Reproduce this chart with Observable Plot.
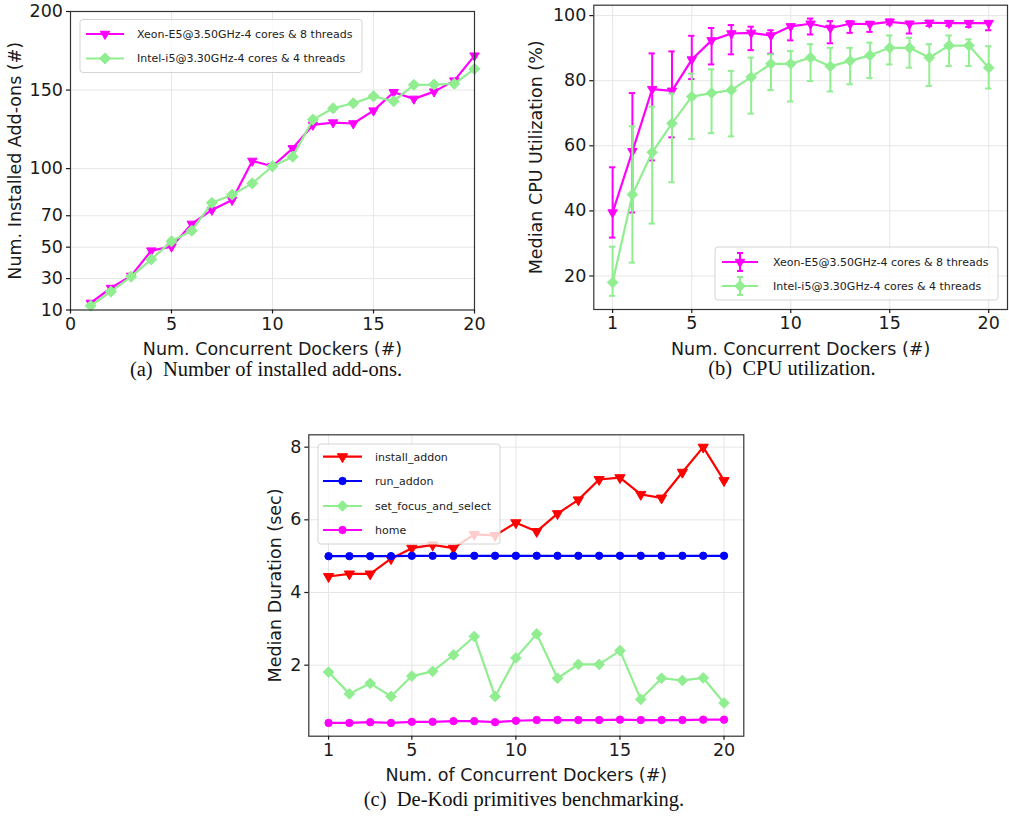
<!DOCTYPE html>
<html><head><meta charset="utf-8">
<script src="https://cdn.jsdelivr.net/npm/d3@7"></script>
<script src="https://cdn.jsdelivr.net/npm/@observablehq/plot@0.6"></script>
<style>
body{margin:0;background:#fff;}
#root{position:relative;width:1009px;height:825px;overflow:hidden;background:#fff;}
.panel{position:absolute;}
#overlay{position:absolute;left:0;top:0;pointer-events:none;}
</style>
</head><body>
<div id="root"></div>
<script>
// ---------- data ----------
const dockers = [1,2,3,4,5,6,7,8,9,10,11,12,13,14,15,16,17,18,19,20];
const cpuNames = ["Xeon-E5@3.50GHz-4 cores & 8 threads", "Intel-i5@3.30GHz-4 cores & 4 threads"];
const primNames = ["install_addon", "run_addon", "set_focus_and_select", "home"];

// (a) installed add-ons
const addonsXeon  = [14.5, 24, 31.7, 47.8, 50.3, 64.8, 73.7, 80, 104.9, 101.5, 112.9, 127.8, 129.3, 128.7, 136.9, 148.6, 144.4, 149, 156, 171.9];
const addonsIntel = [12.7, 21.7, 31.2, 42.2, 53.7, 60.5, 78.2, 83.4, 90.6, 101.5, 107.6, 131.2, 138.4, 141.6, 146, 142.9, 153.3, 153.5, 154, 163.5];

// (b) CPU utilization (median, low, high)
const cpuXeon      = [39.5, 58.3, 77.4, 76.9, 86.5, 92.4, 94.5, 94.7, 93.9, 96.7, 97.5, 96.2, 97.5, 97.4, 98.1, 97.5, 97.8, 97.7, 97.7, 97.7];
const cpuXeonLow   = [31.8, 39.5, 55.5, 62.6, 80.5, 85, 88.1, 89.4, 88.3, 92.4, 94.2, 91.5, 94.7, 95, 97.3, 94.5, 96.8, 96.8, 96.5, 95.5];
const cpuXeonHigh  = [53.4, 76.2, 88.4, 89, 93.8, 96.2, 97.1, 96.6, 95.5, 97.1, 99.1, 98.3, 98.3, 98.1, 98.8, 98.1, 98.3, 98.3, 98.3, 98.3];
const cpuIntel     = [18, 45, 58, 66.9, 75.1, 76.2, 77.1, 81.1, 85.2, 85.2, 87.1, 84.4, 86.1, 87.8, 90.1, 90.1, 87.1, 90.8, 90.8, 84];
const cpuIntelLow  = [13.9, 24.1, 36.1, 48.8, 62.1, 63.9, 62.9, 69.9, 77.1, 73.6, 79.9, 76.7, 78.9, 80.8, 85, 84, 78.4, 84.5, 84.5, 77.6];
const cpuIntelHigh = [29, 66, 72, 76.1, 82.2, 83.5, 83, 87.1, 88.1, 89.1, 91.2, 90.1, 90.1, 91.7, 93.9, 93.2, 91.2, 93.9, 92.7, 90.6];

// (c) primitive durations (sec)
const durInstall = [4.44, 4.51, 4.51, 4.93, 5.22, 5.31, 5.22, 5.6, 5.57, 5.92, 5.68, 6.17, 6.55, 7.11, 7.16, 6.7, 6.6, 7.31, 8.0, 7.08];
const durRun     = [5.0, 5.0, 5.0, 5.0, 5.01, 5.01, 5.01, 5.01, 5.01, 5.01, 5.01, 5.01, 5.01, 5.01, 5.01, 5.01, 5.01, 5.01, 5.01, 5.01];
const durFocus   = [1.81, 1.21, 1.5, 1.14, 1.7, 1.83, 2.28, 2.79, 1.14, 2.2, 2.86, 1.64, 2.02, 2.02, 2.4, 1.06, 1.64, 1.58, 1.65, 0.96];
const durHome    = [0.41, 0.41, 0.43, 0.41, 0.44, 0.44, 0.46, 0.46, 0.43, 0.47, 0.49, 0.49, 0.49, 0.49, 0.5, 0.49, 0.49, 0.49, 0.5, 0.5];

// ticks
const ticksAx = [0, 5, 10, 15, 20];
const ticksAy = [10, 30, 50, 70, 100, 150, 200];
const ticksBx = [1, 5, 10, 15, 20];
const ticksBy = [20, 40, 60, 80, 100];
const ticksCx = [1, 5, 10, 15, 20];
const ticksCy = [2, 4, 6, 8];

const captions = ["(a)  Number of installed add-ons.", "(b)  CPU utilization.", "(c)  De-Kodi primitives benchmarking."];

// ---------- helpers ----------
const MAG = "#ff00ff", LGREEN = "#90ee90", RED = "#ff0000", BLUE = "#0000ff";
const rows = (ys, lo, hi) => dockers.map((x, i) => ({x, y: ys[i], lo: lo ? lo[i] : null, hi: hi ? hi[i] : null}));

function panel(o) {
  return Plot.plot({
    width: o.width, height: o.height,
    marginLeft: o.ml, marginRight: o.mr, marginTop: o.mt, marginBottom: o.mb,
    style: {fontFamily: "'DejaVu Sans', sans-serif", fontSize: "17.5px", color: "#1a1a1a", background: "transparent", overflow: "visible"},
    x: {domain: o.xDomain},
    y: {domain: o.yDomain},
    marks: [
      Plot.gridX(o.xTicks, {stroke: "#e6e6e6", strokeOpacity: 1, strokeWidth: 1}),
      Plot.gridY(o.yTicks, {stroke: "#e6e6e6", strokeOpacity: 1, strokeWidth: 1}),
      ...o.marks,
      Plot.frame({stroke: "#333", strokeWidth: 1.2}),
      Plot.axisX(o.xTicks, {tickSize: 4, tickPadding: 3.5, strokeWidth: 1.2, label: o.xLabel, labelAnchor: "center", labelArrow: "none", labelOffset: o.xLabelOffset}),
      Plot.axisY(o.yTicks, {tickSize: 4, tickPadding: 3.5, strokeWidth: 1.2, label: o.yLabel, labelAnchor: "center", labelArrow: "none", labelOffset: o.yLabelOffset})
    ]
  });
}
function series(data, color, symbol, r, rotate) {
  return [
    Plot.line(data, {x: "x", y: "y", stroke: color, strokeWidth: 2.2}),
    Plot.dot(data, {x: "x", y: "y", fill: color, stroke: color, strokeWidth: 1, symbol, r, rotate: rotate || 0})
  ];
}
function errbars(data, color) {
  return [
    Plot.ruleX(data, {x: "x", y1: "lo", y2: "hi", stroke: color, strokeWidth: 2}),
    Plot.ruleY(data, {y: "lo", x1: d => d.x - 0.16, x2: d => d.x + 0.16, stroke: color, strokeWidth: 2}),
    Plot.ruleY(data, {y: "hi", x1: d => d.x - 0.16, x2: d => d.x + 0.16, stroke: color, strokeWidth: 2})
  ];
}
function place(el, left, top) {
  const d = document.createElement("div");
  d.className = "panel"; d.style.left = left + "px"; d.style.top = top + "px";
  d.appendChild(el); document.getElementById("root").appendChild(d);
}

// ---------- panel (a) ----------
const aXeon = rows(addonsXeon), aIntel = rows(addonsIntel);
place(panel({
  width: 490, height: 360, ml: 70, mr: 16, mt: 11, mb: 50.5,
  xDomain: [0, 20], yDomain: [10, 200], xTicks: ticksAx, yTicks: ticksAy,
  xLabel: "Num. Concurrent Dockers (#)", xLabelOffset: 44.5,
  yLabel: "Num. Installed Add-ons (#)", yLabelOffset: 62,
  marks: [...series(aXeon, MAG, "triangle", 3.5, 180), ...series(aIntel, LGREEN, "diamond2", 5)]
}), 0, 0);

// ---------- panel (b) ----------
const bXeon = rows(cpuXeon, cpuXeonLow, cpuXeonHigh), bIntel = rows(cpuIntel, cpuIntelLow, cpuIntelHigh);
place(panel({
  width: 519, height: 360, ml: 103.3, mr: 2, mt: 4.7, mb: 51,
  xDomain: [0.05, 20.95], yDomain: [9.7, 103.2], xTicks: ticksBx, yTicks: ticksBy,
  xLabel: "Num. Concurrent Dockers (#)", xLabelOffset: 45.4,
  yLabel: "Median CPU Utilization (%)", yLabelOffset: 64,
  marks: [...errbars(bXeon, MAG), ...series(bXeon, MAG, "triangle", 3.5, 180),
          ...errbars(bIntel, LGREEN), ...series(bIntel, LGREEN, "diamond2", 4.8)]
}), 490, 0);

// ---------- panel (c) ----------
place(panel({
  width: 500, height: 370, ml: 58.3, mr: 6.7, mt: 14.3, mb: 54.3,
  xDomain: [0.05, 20.95], yDomain: [0.045, 8.34], xTicks: ticksCx, yTicks: ticksCy,
  xLabel: "Num. of Concurrent Dockers (#)", xLabelOffset: 45,
  yLabel: "Median Duration (sec)", yLabelOffset: 40,
  marks: [...series(rows(durInstall), RED, "triangle", 3.8, 180),
          ...series(rows(durRun), BLUE, "circle", 3.7),
          ...series(rows(durFocus), LGREEN, "diamond2", 4.8),
          ...series(rows(durHome), MAG, "circle", 3.7)]
}), 250, 420);

// ---------- overlay: legends + captions ----------
const ov = d3.select("#root").append("svg").attr("id", "overlay").attr("width", 1009).attr("height", 825)
  .style("font-family", "'DejaVu Sans', sans-serif");
const symPath = (type, r) => {
  const t = {triangle: d3.symbolTriangle, diamond2: d3.symbolDiamond2, circle: d3.symbolCircle}[type];
  return d3.symbol(t, Math.PI * r * r)();
};
function legend(box, items, lx1, lx2, tx, ys, opts = {}) {
  const g = ov.append("g");
  g.append("rect").attr("x", box[0]).attr("y", box[1]).attr("width", box[2]).attr("height", box[3])
    .attr("rx", 3).attr("fill", "rgba(255,255,255,0.8)").attr("stroke", "#d4d4d4").attr("stroke-width", 1);
  items.forEach((it, i) => {
    const y = ys[i], mx = (lx1 + lx2) / 2;
    g.append("line").attr("x1", lx1).attr("x2", lx2).attr("y1", y).attr("y2", y).attr("stroke", it.color).attr("stroke-width", 2.2);
    if (opts.err) {
      g.append("line").attr("x1", mx).attr("x2", mx).attr("y1", y - 9).attr("y2", y + 9).attr("stroke", it.color).attr("stroke-width", 2);
      [y - 9, y + 9].forEach(cy => g.append("line").attr("x1", mx - 3).attr("x2", mx + 3).attr("y1", cy).attr("y2", cy).attr("stroke", it.color).attr("stroke-width", 2));
    }
    g.append("path").attr("d", symPath(it.symbol, it.r)).attr("fill", it.color).attr("stroke", it.color)
      .attr("transform", `translate(${mx},${y}) rotate(${it.rotate || 0})`);
    g.append("text").attr("x", tx).attr("y", y).attr("dy", "0.35em").attr("font-size", 11).attr("fill", "#222").text(it.label);
  });
}
legend([80, 19.5, 282, 53], [
  {label: cpuNames[0], color: MAG, symbol: "triangle", r: 3.5, rotate: 180},
  {label: cpuNames[1], color: LGREEN, symbol: "diamond2", r: 5}
], 86, 124, 137, [34, 58.5]);
legend([715, 247, 283, 53], [
  {label: cpuNames[0], color: MAG, symbol: "triangle", r: 3.5, rotate: 180},
  {label: cpuNames[1], color: LGREEN, symbol: "diamond2", r: 4.8}
], 722, 758, 773, [262, 286], {err: true});
legend([318, 444, 182, 100], [
  {label: primNames[0], color: RED, symbol: "triangle", r: 3.8, rotate: 180},
  {label: primNames[1], color: BLUE, symbol: "circle", r: 3.7},
  {label: primNames[2], color: LGREEN, symbol: "diamond2", r: 4.8},
  {label: primNames[3], color: MAG, symbol: "circle", r: 3.7}
], 323, 362, 375, [456.7, 481, 506, 530]);

[[266, 376, captions[0]], [792, 375, captions[1]], [524, 806, captions[2]]].forEach(([x, y, t]) => {
  ov.append("text").attr("x", x).attr("y", y).attr("text-anchor", "middle")
    .attr("font-family", "'Liberation Serif', serif").attr("font-size", 20.5).attr("fill", "#111")
    .attr("xml:space", "preserve").style("white-space", "pre").text(t);
});
</script>
</body></html>
